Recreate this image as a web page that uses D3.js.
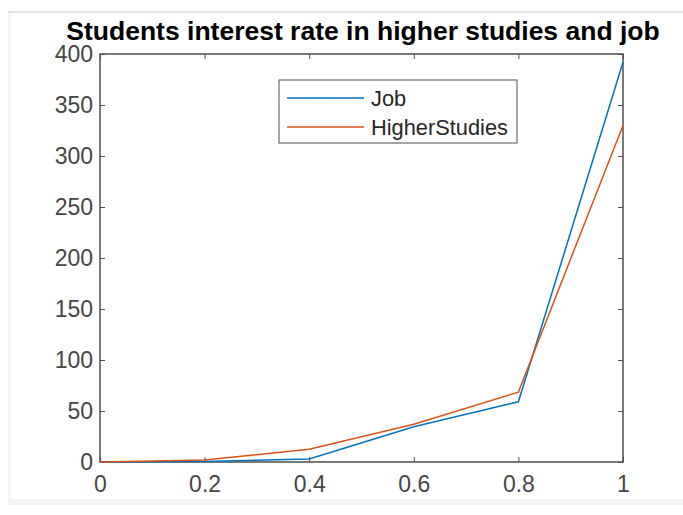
<!DOCTYPE html>
<html><head><meta charset="utf-8">
<script src="https://cdn.jsdelivr.net/npm/d3@7"></script>
<style>body{margin:0;background:#fff}svg{display:block}</style>
</head><body>
<script>
const xValues = [0, 0.2, 0.4, 0.6, 0.8, 1];
const jobValues = [0, 0.5, 3, 34.5, 59, 392];
const higherStudiesValues = [0, 2, 12.5, 37, 68.5, 330];
const seriesNames = ["Job", "HigherStudies"];
const seriesColors = ["#0072BD", "#D95319"];
const xTicks = [0, 0.2, 0.4, 0.6, 0.8, 1];
const yTicks = [0, 50, 100, 150, 200, 250, 300, 350, 400];
const titleText = "Students interest rate in higher studies and job";

const W = 683, H = 515;
const L = 100, R = 623, T = 54, B = 462;
const svg = d3.select("body").append("svg").attr("width", W).attr("height", H);

// figure frame
svg.append("rect").attr("x", 8).attr("y", 11).attr("width", W - 8).attr("height", 494).attr("fill", "#f3f3f3");
svg.append("rect").attr("x", 11).attr("y", 13).attr("width", W - 11).attr("height", 486).attr("fill", "#ffffff");
svg.append("rect").attr("x", 8).attr("y", 11).attr("width", W - 8).attr("height", 2).attr("fill", "#e2e2e2");

const x = d3.scaleLinear().domain([0, 1]).range([L, R]);
const y = d3.scaleLinear().domain([0, 400]).range([B, T]);

const font = "'Liberation Sans', Arial, sans-serif";
const axisColor = "#4d4d4d";
const tickLen = 5;

function styleAxis(g, hideText) {
  g.select(".domain").remove();
  g.selectAll(".tick line").attr("stroke", axisColor).attr("stroke-width", 1);
  g.selectAll(".tick text").attr("fill", "#454545").style("font-family", font).style("font-size", "23px");
  if (hideText) g.selectAll(".tick text").remove();
}

svg.append("g").attr("transform", `translate(0,${B})`)
  .call(d3.axisBottom(x).tickValues(xTicks).tickSizeInner(-tickLen).tickSizeOuter(0).tickPadding(14).tickFormat(d => d3.format("~g")(d)))
  .call(g => styleAxis(g, false));
svg.append("g").attr("transform", `translate(0,${T})`)
  .call(d3.axisTop(x).tickValues(xTicks).tickSizeInner(-tickLen).tickSizeOuter(0))
  .call(g => styleAxis(g, true));
svg.append("g").attr("transform", `translate(${L},0)`)
  .call(d3.axisLeft(y).tickValues(yTicks).tickSizeInner(-tickLen).tickSizeOuter(0).tickPadding(7))
  .call(g => styleAxis(g, false));
svg.append("g").attr("transform", `translate(${R},0)`)
  .call(d3.axisRight(y).tickValues(yTicks).tickSizeInner(-tickLen).tickSizeOuter(0))
  .call(g => styleAxis(g, true));

svg.append("rect").attr("x", L).attr("y", T).attr("width", R - L).attr("height", B - T)
  .attr("fill", "none").attr("stroke", axisColor).attr("stroke-width", 1.5);

const series = [jobValues, higherStudiesValues];
const line = d3.line().x((d, i) => x(xValues[i])).y(d => y(d));
series.forEach((vals, k) => {
  svg.append("path").datum(vals).attr("d", line).attr("fill", "none")
    .attr("stroke", seriesColors[k]).attr("stroke-width", 1.5);
});

// legend
const lg = svg.append("g");
lg.append("rect").attr("x", 279).attr("y", 80).attr("width", 238).attr("height", 63)
  .attr("fill", "#fff").attr("stroke", axisColor).attr("stroke-width", 1);
seriesNames.forEach((n, k) => {
  const yy = 98 + k * 29;
  lg.append("line").attr("x1", 287).attr("x2", 364).attr("y1", yy).attr("y2", yy)
    .attr("stroke", seriesColors[k]).attr("stroke-width", 1.5);
  lg.append("text").attr("x", 371).attr("y", yy).attr("dy", "0.35em").text(n)
    .attr("fill", "#262626").style("font-family", font).style("font-size", "21.8px");
});

svg.append("text").attr("x", 363).attr("y", 40).attr("text-anchor", "middle")
  .text(titleText).attr("fill", "#000").style("font-family", font)
  .style("font-size", "26.5px").style("font-weight", "bold");
</script>
</body></html>
